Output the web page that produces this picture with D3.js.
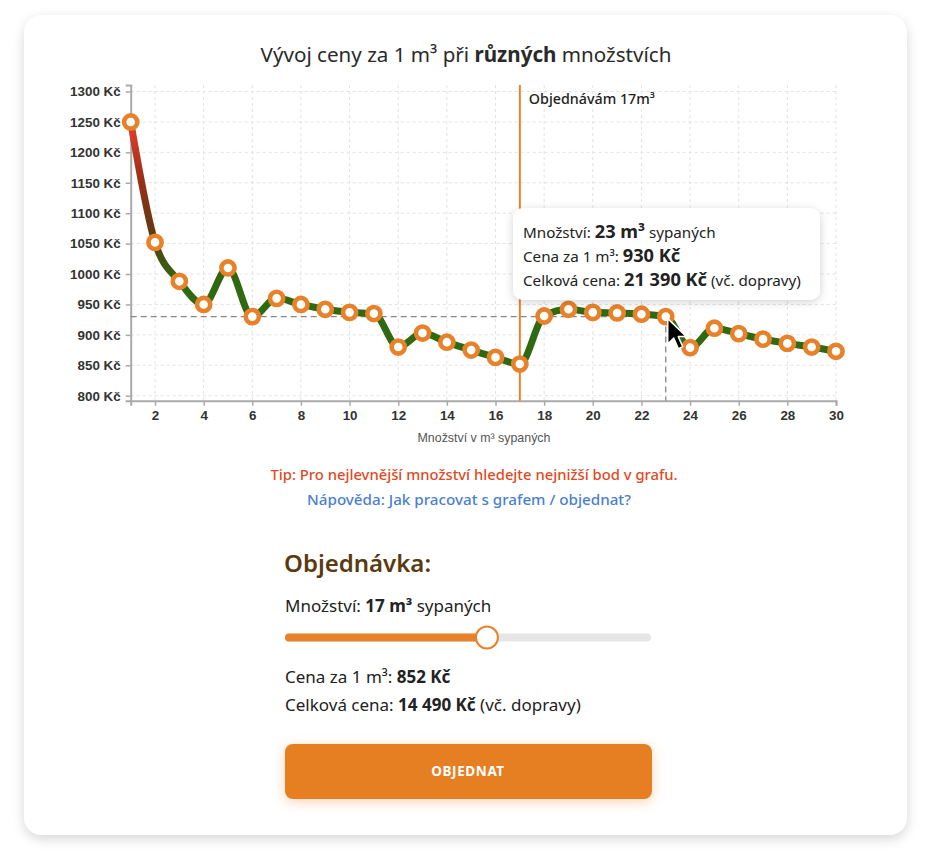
<!DOCTYPE html>
<html><head><meta charset="utf-8">
<script src="https://cdn.jsdelivr.net/npm/d3@7"></script>
<style>
html,body{margin:0;padding:0;background:#fff;}
svg{display:block;}
</style></head>
<body>
<svg id="c" width="931" height="867"></svg>
<script>
// ---- data ----
const quantities = d3.range(1, 31);
const prices = [1250, 1052, 988, 950, 1010, 930, 960, 950, 942, 937, 935, 880, 903, 888, 875, 863, 852, 931, 942, 937, 936, 934, 930, 879, 911, 902, 893, 886, 880, 873];
const yTicks = [800, 850, 900, 950, 1000, 1050, 1100, 1150, 1200, 1250, 1300];
const xTicks = [2, 4, 6, 8, 10, 12, 14, 16, 18, 20, 22, 24, 26, 28, 30];
const selectedQty = 17;
const hoverQty = 23;
const hoverTotal = "21 390 Kč";
const selectedTotal = "14 490 Kč";

const svg = d3.select("#c");
const FONT = "'Noto Sans', sans-serif";
const AXF = "'Liberation Sans', Arial, sans-serif";

const defs = svg.append("defs");
const sh = defs.append("filter").attr("id","cardShadow").attr("x","-10%").attr("y","-10%").attr("width","120%").attr("height","120%");
sh.append("feDropShadow").attr("dx",0).attr("dy",4).attr("stdDeviation",6).attr("flood-color","#000").attr("flood-opacity",0.16);
const tsh = defs.append("filter").attr("id","tipShadow").attr("x","-20%").attr("y","-30%").attr("width","140%").attr("height","160%");
tsh.append("feDropShadow").attr("dx",0).attr("dy",2).attr("stdDeviation",4).attr("flood-color","#000").attr("flood-opacity",0.18);
const bsh = defs.append("filter").attr("id","btnShadow").attr("x","-20%").attr("y","-50%").attr("width","140%").attr("height","200%");
bsh.append("feDropShadow").attr("dx",0).attr("dy",3).attr("stdDeviation",6).attr("flood-color","#e8822a").attr("flood-opacity",0.35);

// card
svg.append("rect").attr("x",24).attr("y",15).attr("width",883).attr("height",820).attr("rx",18)
  .attr("fill","#fff").attr("filter","url(#cardShadow)");

// title
const title = svg.append("text").attr("x",466).attr("y",62).attr("text-anchor","middle")
  .attr("font-family",FONT).attr("font-size",20.6).attr("fill","#2a2a2a");
title.append("tspan").text("Vývoj ceny za 1 m³ při ");
title.append("tspan").attr("font-weight","bold").text("různých");
title.append("tspan").text(" množstvích");

// scales
const x = d3.scaleLinear().domain([1, 30]).range([130.7, 836]);
const y = d3.scaleLinear().domain([791.8, 1310.7]).range([400.7, 85]);

// grid
const grid = svg.append("g").attr("stroke","#e2e2e2").attr("stroke-width",1).attr("stroke-dasharray","3,3");
grid.selectAll("line.h").data(yTicks).join("line").attr("class","h")
  .attr("x1",x(1)).attr("x2",x(30)).attr("y1",d=>y(d)).attr("y2",d=>y(d));
grid.selectAll("line.v").data(xTicks).join("line").attr("class","v")
  .attr("x1",d=>x(d)).attr("x2",d=>x(d)).attr("y1",y.range()[1]).attr("y2",y.range()[0]);

// axes
const yAxis = d3.axisLeft(y).tickValues(yTicks).tickSize(5).tickPadding(5).tickFormat(d=>d+" Kč");
const gy = svg.append("g").attr("transform",`translate(${x(1)},0)`).call(yAxis);
const xAxis = d3.axisBottom(x).tickValues(xTicks).tickSize(5).tickPadding(5).tickFormat(d3.format("d"));
const gx = svg.append("g").attr("transform",`translate(0,${y.range()[0]})`).call(xAxis);
[gx, gy].forEach(g=>{
  g.select(".domain").attr("stroke","#aaa").attr("stroke-width",2);
  g.selectAll(".tick line").attr("stroke","#aaa").attr("stroke-width",1.5);
  g.selectAll(".tick text").attr("font-family",AXF).attr("font-weight","bold").attr("font-size",13.4).attr("fill","#333");
});
svg.append("text").attr("x",484).attr("y",442).attr("text-anchor","middle")
  .attr("font-family",AXF).attr("font-size",12.4).attr("fill","#555").text("Množství v m³ sypaných");

// line gradient
const grad = defs.append("linearGradient").attr("id","lineGrad").attr("gradientUnits","userSpaceOnUse")
  .attr("x1",0).attr("x2",0).attr("y1",y(1250)).attr("y2",y(985));
grad.append("stop").attr("offset","0%").attr("stop-color","#e3402b");
grad.append("stop").attr("offset","35%").attr("stop-color","#9c2f18");
grad.append("stop").attr("offset","70%").attr("stop-color","#5c3a12");
grad.append("stop").attr("offset","100%").attr("stop-color","#2f6a12");

const pts = quantities.map((q,i)=>({q, p:prices[i]}));

// hover dashed guides
const hp = prices[hoverQty-1];
svg.append("line").attr("x1",x(1)).attr("x2",x(hoverQty)).attr("y1",y(hp)).attr("y2",y(hp))
  .attr("stroke","#888").attr("stroke-width",1.3).attr("stroke-dasharray","6,4");
svg.append("line").attr("x1",x(hoverQty)).attr("x2",x(hoverQty)).attr("y1",y(hp)).attr("y2",y.range()[0])
  .attr("stroke","#888").attr("stroke-width",1.3).attr("stroke-dasharray","6,4");

// line
const line = d3.line().x(d=>x(d.q)).y(d=>y(d.p)).curve(d3.curveMonotoneX);
svg.append("path").datum(pts).attr("d",line).attr("fill","none")
  .attr("stroke","url(#lineGrad)").attr("stroke-width",7).attr("stroke-linejoin","round");

// selected marker line
svg.append("line").attr("x1",x(selectedQty)).attr("x2",x(selectedQty)).attr("y1",y.range()[1]).attr("y2",y.range()[0])
  .attr("stroke","#e8822a").attr("stroke-width",2);
svg.append("text").attr("x",x(selectedQty)+9).attr("y",104).attr("font-family",FONT).attr("font-size",14.3)
  .attr("font-weight",500).attr("fill","#222").text("Objednávám "+selectedQty+"m³");

// points
svg.append("g").selectAll("circle").data(pts).join("circle")
  .attr("cx",d=>x(d.q)).attr("cy",d=>y(d.p)).attr("r",6.6)
  .attr("fill","#fff").attr("stroke","#e8822a").attr("stroke-width",4.6);

// tooltip
const tip = svg.append("g");
tip.append("rect").attr("x",513).attr("y",208).attr("width",307).attr("height",92).attr("rx",10)
  .attr("fill","#fff").attr("filter","url(#tipShadow)");
const TF = 15.2, TB = 18.2;
const tl1 = tip.append("text").attr("x",523).attr("y",238).attr("font-family",FONT).attr("font-size",TF).attr("fill","#222");
tl1.append("tspan").text("Množství: ");
tl1.append("tspan").attr("font-weight","bold").attr("font-size",TB).text(hoverQty+" m³");
tl1.append("tspan").text(" sypaných");
const tl2 = tip.append("text").attr("x",523).attr("y",262).attr("font-family",FONT).attr("font-size",TF).attr("fill","#222");
tl2.append("tspan").text("Cena za 1 m³: ");
tl2.append("tspan").attr("font-weight","bold").attr("font-size",TB).text(hp+" Kč");
const tl3 = tip.append("text").attr("x",523).attr("y",286).attr("font-family",FONT).attr("font-size",TF).attr("fill","#222");
tl3.append("tspan").text("Celková cena: ");
tl3.append("tspan").attr("font-weight","bold").attr("font-size",TB).text(hoverTotal);
tl3.append("tspan").text(" (vč. dopravy)");

// cursor
const cx0 = x(hoverQty)+2, cy0 = y(hp)+2;
svg.append("path").attr("transform",`translate(${cx0},${cy0}) scale(1.5)`)
  .attr("d","M0,0 L0,17 L4,13 L7,20 L10,18.7 L7,12 L12.5,12 Z")
  .attr("fill","#000").attr("stroke","#fff").attr("stroke-width",1).attr("stroke-linejoin","round");

// tips
svg.append("text").attr("x",474).attr("y",480).attr("text-anchor","middle").attr("font-family",FONT)
  .attr("font-size",14.8).attr("font-weight",500).attr("fill","#e04a24").text("Tip: Pro nejlevnější množství hledejte nejnižší bod v grafu.");
svg.append("text").attr("x",469).attr("y",505).attr("text-anchor","middle").attr("font-family",FONT)
  .attr("font-size",15.2).attr("font-weight",500).attr("fill","#4a7fd0").text("Nápověda: Jak pracovat s grafem / objednat?");

// order panel
svg.append("text").attr("x",284).attr("y",572).attr("font-family",FONT).attr("font-size",24)
  .attr("font-weight",600).attr("fill","#5a3a10").text("Objednávka:");
const OF = 17;
const q1 = svg.append("text").attr("x",285).attr("y",612).attr("font-family",FONT).attr("font-size",OF).attr("fill","#222");
q1.append("tspan").text("Množství: ");
q1.append("tspan").attr("font-weight","bold").text(selectedQty+" m³");
q1.append("tspan").text(" sypaných");

const s = d3.scaleLinear().domain([1,30]).range([285,651]);
svg.append("rect").attr("x",s(1)).attr("y",633.5).attr("width",s(30)-s(1)).attr("height",8).attr("rx",4)
  .attr("fill","#e6e6e6");
svg.append("rect").attr("x",s(1)).attr("y",633.5).attr("width",s(selectedQty)-s(1)).attr("height",8).attr("rx",4)
  .attr("fill","#e8822a");
svg.append("circle").attr("cx",s(selectedQty)).attr("cy",637.5).attr("r",11)
  .attr("fill","#fff").attr("stroke","#e8822a").attr("stroke-width",2);

const p1 = svg.append("text").attr("x",285).attr("y",683).attr("font-family",FONT).attr("font-size",OF).attr("fill","#222");
p1.append("tspan").text("Cena za 1 m³: ");
p1.append("tspan").attr("font-weight","bold").text(prices[selectedQty-1]+" Kč");
const p2 = svg.append("text").attr("x",285).attr("y",711).attr("font-family",FONT).attr("font-size",OF).attr("fill","#222");
p2.append("tspan").text("Celková cena: ");
p2.append("tspan").attr("font-weight","bold").text(selectedTotal);
p2.append("tspan").text(" (vč. dopravy)");

svg.append("rect").attr("x",285).attr("y",744).attr("width",367).attr("height",55).attr("rx",8)
  .attr("fill","#e67e22").attr("filter","url(#btnShadow)");
svg.append("text").attr("x",468).attr("y",776).attr("text-anchor","middle").attr("font-family",FONT)
  .attr("font-size",13.5).attr("font-weight","bold").attr("letter-spacing",0.6).attr("fill","#fff").text("OBJEDNAT");
</script>
</body></html>
